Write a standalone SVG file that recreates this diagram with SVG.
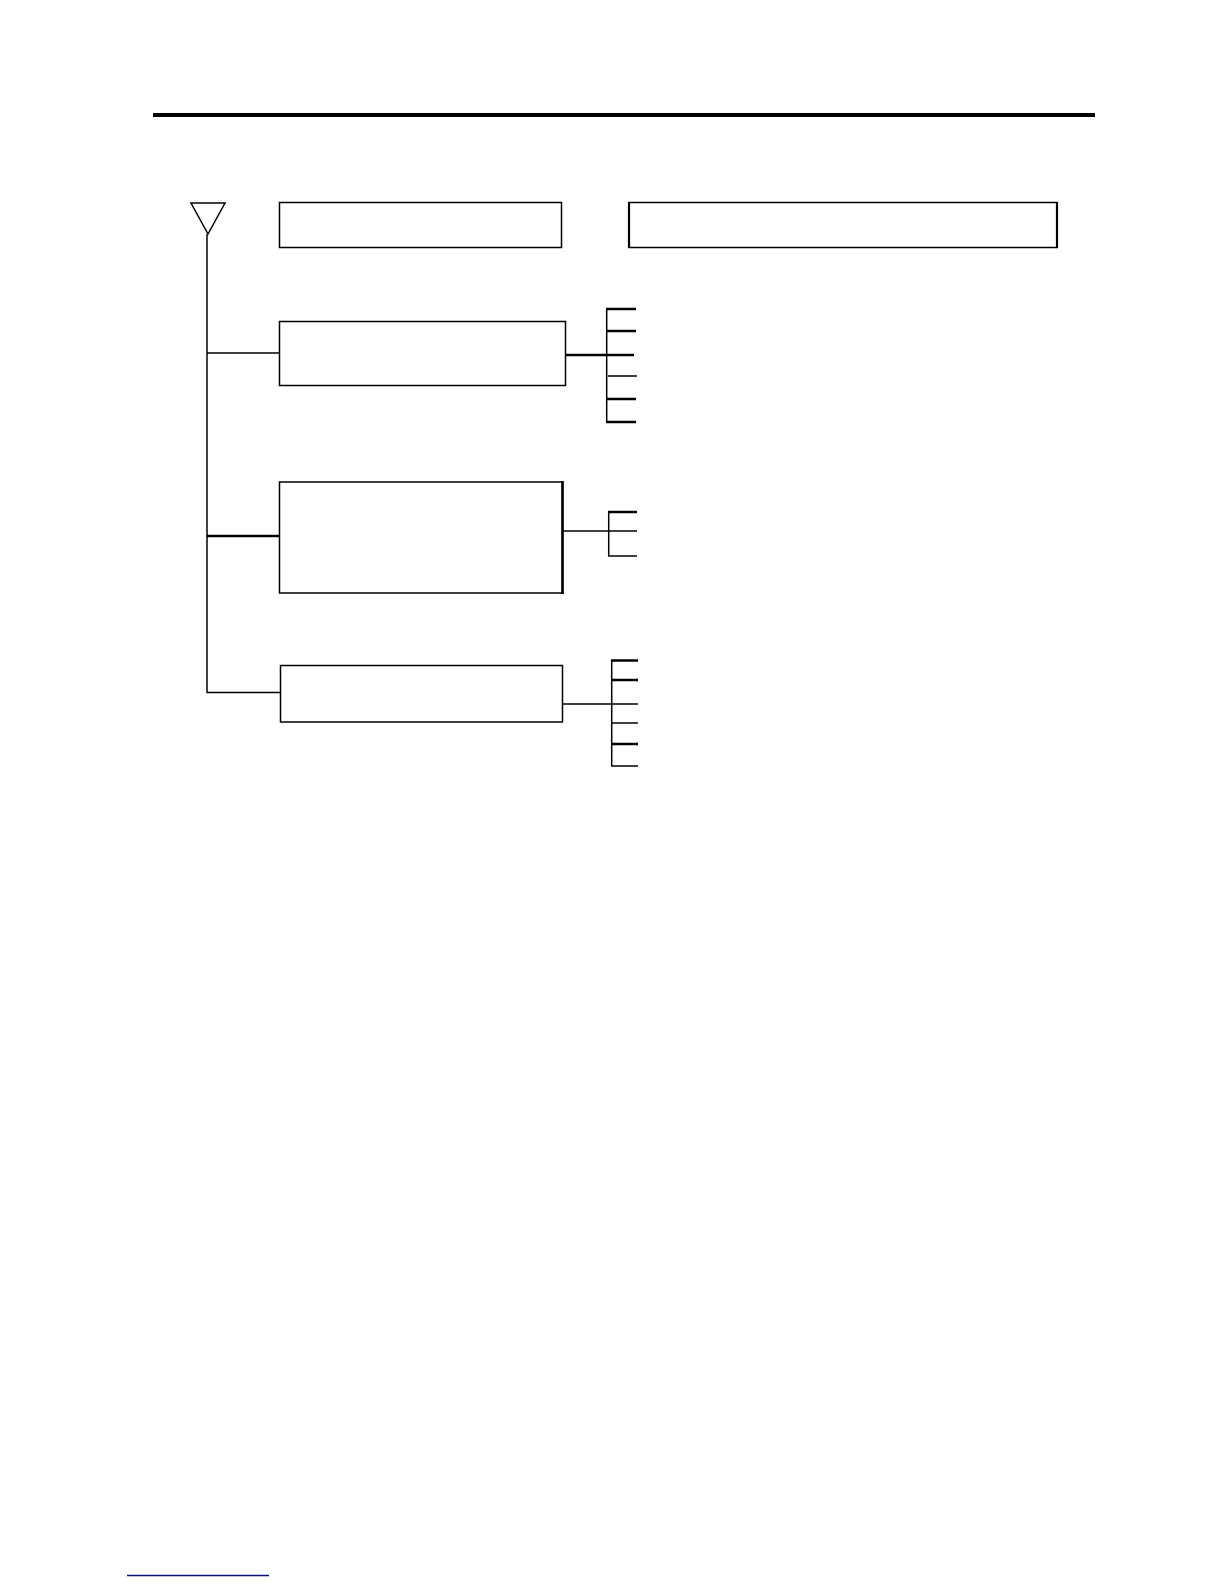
<svg xmlns="http://www.w3.org/2000/svg" width="1224" height="1584" viewBox="0 0 1224 1584">
<style>
.box{fill:#fff;stroke:#000;stroke-width:1.5}
.ln{stroke:#000;stroke-width:1.5;fill:none}
.th{stroke:#000;stroke-width:2.5;fill:none}
</style>
<rect x="0" y="0" width="1224" height="1584" fill="#fff"/>
<rect x="153" y="113" width="942" height="4" fill="#000"/>
<g id="antenna">
<polygon points="191,203 225,203 208,234" fill="none" stroke="#000" stroke-width="1.5"/>
</g>
<g id="connectors">
<line class="ln" x1="207" y1="234" x2="207" y2="693"/>
<line class="ln" x1="207" y1="353" x2="280" y2="353"/>
<line class="th" x1="207" y1="536" x2="280" y2="536"/>
<line class="ln" x1="207" y1="692.5" x2="280" y2="692.5"/>
<line class="th" x1="565" y1="355" x2="607" y2="355"/>
<line class="ln" x1="606.7" y1="309" x2="606.7" y2="422"/>
<line class="th" x1="606" y1="309" x2="636" y2="309"/>
<line class="th" x1="606" y1="331" x2="636" y2="331"/>
<line class="th" x1="606" y1="355" x2="634" y2="355"/>
<line class="ln" x1="608" y1="376" x2="637" y2="376"/>
<line class="th" x1="606" y1="399" x2="636" y2="399"/>
<line class="th" x1="606" y1="422" x2="636" y2="422"/>
<line class="ln" x1="562" y1="531" x2="637" y2="531"/>
<line class="ln" x1="608.7" y1="512" x2="608.7" y2="556"/>
<line class="th" x1="608" y1="512" x2="637" y2="512"/>
<line class="ln" x1="608" y1="556" x2="637" y2="556"/>
<line class="ln" x1="562" y1="704" x2="612" y2="704"/>
<line class="ln" x1="611.7" y1="660.5" x2="611.7" y2="766"/>
<line class="th" x1="611" y1="660.5" x2="638" y2="660.5"/>
<line class="th" x1="611" y1="680" x2="638" y2="680"/>
<line class="ln" x1="611" y1="704" x2="638" y2="704"/>
<line class="ln" x1="611" y1="723" x2="638" y2="723"/>
<line class="th" x1="611" y1="744" x2="638" y2="744"/>
<line class="ln" x1="611" y1="766" x2="638" y2="766"/>
</g>
<g id="boxA"><rect class="box" x="279.5" y="202.5" width="282" height="45"/></g>
<g id="boxB"><rect class="box" x="629" y="202.5" width="428" height="45" stroke-width="1.3"/><line x1="629" y1="202" x2="629" y2="248" stroke="#000" stroke-width="2.2"/><line x1="1057" y1="202" x2="1057" y2="248" stroke="#000" stroke-width="2.2"/></g>
<g id="box1"><rect class="box" x="279.5" y="321.5" width="286" height="64"/></g>
<g id="box2"><rect class="box" x="279.5" y="482" width="283" height="111" stroke-width="2"/><line x1="562.5" y1="481" x2="562.5" y2="594" stroke="#000" stroke-width="2.6"/></g>
<g id="box3"><rect class="box" x="280.5" y="665.5" width="282" height="56.5"/></g>
<line x1="127" y1="1575.5" x2="269" y2="1575.5" stroke="#10107a" stroke-width="1.3"/>
</svg>
